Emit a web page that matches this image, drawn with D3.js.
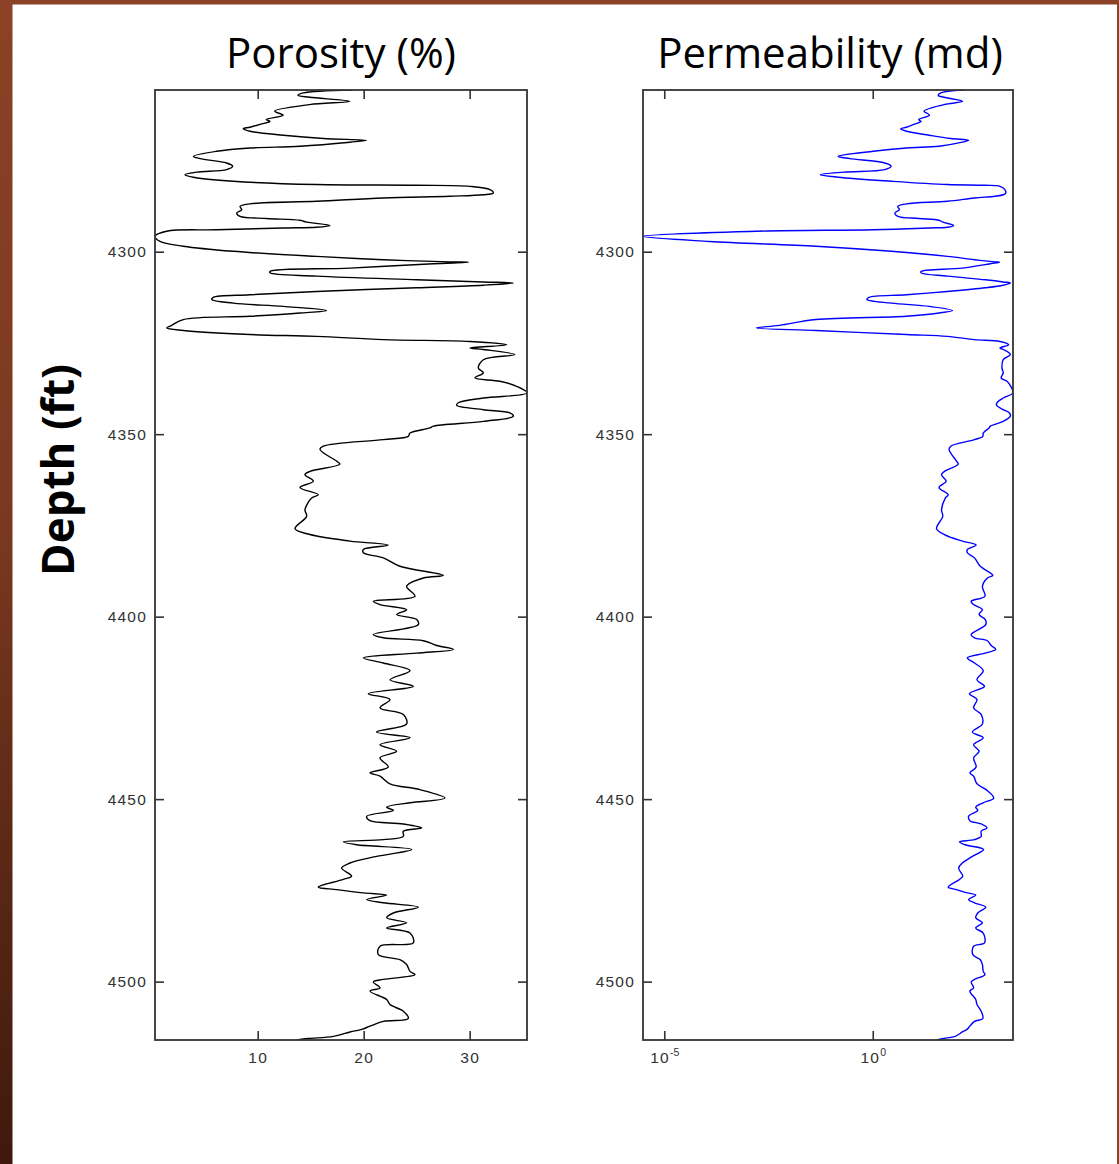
<!DOCTYPE html>
<html><head><meta charset="utf-8">
<script src="https://cdn.jsdelivr.net/npm/d3@7"></script>
<style>body{margin:0;background:#fff;overflow:hidden}</style>
</head><body>
<svg id="c" width="1119" height="1164"></svg>
<script>
// Depth (ft) of each traced point
const depth = [
4255.7,4256.5,4257.2,4257.7,4258.8,4259.7,4261.5,4262.6,4263.8,4264.3,
4265.0,4265.9,4266.3,4267.0,4268.1,4269.0,4269.5,4270.0,4271.1,4271.6,
4272.5,4273.9,4274.5,4275.7,4276.6,4277.5,4278.2,4278.9,4279.6,4280.7,
4281.6,4281.8,4282.1,4283.0,4283.9,4284.4,4284.8,4285.3,4286.2,4286.9,
4287.6,4288.5,4289.4,4290.3,4290.9,4291.4,4291.9,4292.8,4293.3,4293.5,
4294.0,4294.4,4295.8,4297.2,4298.5,4299.9,4301.3,4302.2,4302.8,4302.9,
4303.3,4304.5,4305.4,4305.8,4306.7,4307.7,4308.3,4308.6,4309.2,4309.9,
4310.9,4311.8,4312.5,4313.1,4314.1,4315.0,4316.1,4316.8,4317.7,4318.6,
4320.2,4320.9,4321.6,4322.7,4323.2,4324.1,4324.6,4325.5,4326.4,4326.8,
4328.2,4329.6,4331.9,4333.2,4334.6,4335.5,4336.9,4338.7,4340.1,4341.4,
4342.1,4343.3,4344.2,4345.1,4346.5,4347.8,4348.3,4349.7,4350.6,4351.5,
4353.3,4354.2,4357.4,4358.2,4360.2,4361.1,4362.9,4364.6,4366.6,4367.5,
4370.7,4372.5,4375.9,4377.5,4379.3,4380.4,4381.6,4382.5,4383.9,4386.2,
4388.7,4389.4,4391.7,4394.4,4395.8,4396.7,4398.1,4399.4,4400.8,4402.2,
4404.9,4405.8,4406.6,4407.9,4409.0,4410.0,4411.3,4412.7,4414.8,4417.3,
4419.1,4421.1,4422.7,4425.0,4426.8,4429.4,4431.6,4433.2,4435.1,4436.9,
4438.7,4441.2,4442.8,4443.7,4445.8,4447.4,4449.7,4451.0,4452.2,4453.1,
4454.7,4455.9,4456.8,4457.9,4458.8,4460.2,4461.1,4461.7,4462.5,4463.8,
4465.7,4467.5,4468.9,4471.1,4472.0,4474.1,4474.8,4475.7,4476.3,4477.5,
4478.4,4479.6,4481.2,4482.5,4483.9,4485.3,4486.7,4489.4,4490.3,4492.6,
4494.0,4495.3,4497.2,4498.1,4499.4,4500.1,4501.7,4502.6,4504.9,4506.3,
4508.1,4510.1,4510.9,4512.2,4513.1,4513.8,4515.0,4515.6,4516.0
];
// Porosity (%)
const porosity = [
18.9,14.3,13.8,14.9,18.7,14.9,11.6,12.4,10.8,11.16,
10.37,9.27,8.64,9.27,12.42,16.19,20.28,18.71,13.99,9.27,
6.13,3.93,4.56,7.07,7.64,7.07,4.24,3.14,3.93,7.70,
15.56,25.0,30.03,31.92,32.23,31.29,28.14,21.85,15.56,9.27,
8.33,8.49,8.02,8.33,10.85,13.99,14.62,16.82,15.56,12.42,
6.13,1.41,0.31,0.78,2.98,7.70,15.56,21.85,28.14,29.87,
26.57,18.71,11.16,11.16,15.56,25.0,31.29,34.12,31.29,25.0,
15.56,9.27,5.81,5.66,7.70,12.42,16.51,13.99,9.27,2.98,
1.88,1.41,2.98,9.27,15.56,21.85,30.03,33.49,30.03,31.29,
34.27,31.29,30.82,31.29,30.5,32.86,34.43,35.41,31.29,28.93,
28.77,31.29,33.8,34.12,31.29,26.57,26.25,24.37,24.21,21.85,
16.19,15.88,17.45,17.76,14.93,14.46,15.25,13.99,15.72,15.09,
14.46,14.62,13.52,14.93,18.71,22.32,19.97,19.97,21.85,23.42,
27.51,25.63,24.05,24.84,20.91,21.54,24.05,23.11,25.0,25.15,
20.91,21.85,25.63,26.88,28.46,25.0,19.97,21.85,24.37,22.48,
24.68,20.44,22.48,21.54,23.74,24.05,21.22,24.37,21.54,23.11,
21.54,22.32,20.6,21.54,22.48,25.31,27.67,24.37,22.17,22.8,
20.28,20.6,23.74,25.47,23.74,23.74,21.85,18.08,19.34,24.53,
21.22,18.71,17.92,18.86,18.08,15.72,17.45,19.97,22.17,20.28,
21.85,25.15,22.8,22.17,24.05,22.17,24.37,24.68,21.54,21.38,
23.42,24.05,24.37,24.84,21.85,20.91,21.54,20.6,22.17,22.48,
23.74,24.21,21.85,20.6,19.81,18.71,17.14,14.78,13.68
];
// Permeability, log10(md)
const permLog10 = [
2.17,1.63,1.57,1.71,2.15,1.71,1.23,1.36,1.10,1.16,
1.02,0.81,0.67,0.81,1.36,1.87,2.30,2.15,1.59,0.81,
0.01,-0.83,-0.55,0.29,0.44,0.29,-0.69,-1.26,-0.83,0.45,
1.79,2.70,3.05,3.17,3.19,3.13,2.93,2.44,1.79,0.81,
0.60,0.64,0.53,0.60,1.11,1.59,1.68,1.94,1.79,1.36,
0.01,-2.79,-5.51,-3.92,-1.36,0.45,1.79,2.44,2.93,3.04,
2.82,2.15,1.16,1.16,1.79,2.70,3.13,3.30,3.13,2.70,
1.79,0.81,-0.09,-0.14,0.45,1.36,1.91,1.59,0.81,-1.36,
-2.24,-2.79,-1.36,0.81,1.79,2.44,3.05,3.26,3.05,3.13,
3.30,3.13,3.10,3.13,3.08,3.22,3.31,3.364,3.13,2.98,
2.97,3.13,3.28,3.30,3.13,2.82,2.79,2.65,2.64,2.44,
1.87,1.83,2.01,2.05,1.72,1.65,1.76,1.59,1.81,1.74,
1.65,1.68,1.53,1.72,2.15,2.48,2.27,2.27,2.44,2.58,
2.88,2.75,2.63,2.69,2.36,2.42,2.63,2.55,2.70,2.71,
2.36,2.44,2.75,2.84,2.95,2.70,2.27,2.44,2.65,2.50,
2.68,2.32,2.50,2.42,2.60,2.63,2.39,2.65,2.42,2.55,
2.42,2.48,2.33,2.42,2.50,2.72,2.90,2.65,2.47,2.52,
2.30,2.33,2.60,2.74,2.60,2.60,2.44,2.08,2.21,2.66,
2.39,2.15,2.06,2.16,2.08,1.81,2.01,2.27,2.47,2.30,
2.44,2.71,2.52,2.47,2.63,2.47,2.65,2.68,2.42,2.40,
2.58,2.63,2.65,2.69,2.44,2.36,2.42,2.33,2.47,2.50,
2.60,2.64,2.44,2.33,2.26,2.15,1.98,1.70,1.55
];
const depthTicks = [4300, 4350, 4400, 4450, 4500];
const porosityTicks = [10, 20, 30];
const permTickExponents = [-5, 0];
const titles = ["Porosity (%)", "Permeability (md)"];
const yTitle = "Depth (ft)";

const svg = d3.select("#c");
const W = 1119, H = 1164;

// frame
const defs = svg.append("defs");
const g1 = defs.append("linearGradient").attr("id","wood").attr("x1",0).attr("y1",0).attr("x2",0).attr("y2",1);
g1.append("stop").attr("offset","0").attr("stop-color","#8b4226");
g1.append("stop").attr("offset","0.45").attr("stop-color","#7a3820");
g1.append("stop").attr("offset","1").attr("stop-color","#3e190c");
svg.append("rect").attr("x",0).attr("y",0).attr("width",W).attr("height",H).attr("fill","#fff");
svg.append("rect").attr("x",0).attr("y",0).attr("width",W).attr("height",4.5).attr("fill","#8b4226");
svg.append("rect").attr("x",0).attr("y",0).attr("width",12.5).attr("height",H).attr("fill","url(#wood)");
svg.append("rect").attr("x",1117).attr("y",0).attr("width",2).attr("height",H).attr("fill","#8b4226");

const yTop = 90, yBottom = 1040;
const y = d3.scaleLinear().domain([4255.7, 4516.0]).range([yTop, yBottom]);
const xP = d3.scaleLinear().domain([0.31, 35.41]).range([155, 527]);
const xK = d3.scaleLog().domain([Math.pow(10,-5.51), Math.pow(10,3.364)]).range([643, 1013]);

const tickFont = "'Liberation Sans', Arial, sans-serif";
const axisColor = "#333";

function styleAxis(g){
  g.select(".domain").remove();
  g.selectAll(".tick line").attr("stroke", axisColor).attr("stroke-width", 1.6);
  g.selectAll(".tick text").attr("fill", "#333").style("font-family", tickFont)
   .style("font-size", "15.5px").style("letter-spacing", "1.2px");
}

function panel(x, xTicks, series, color, fmtSup){
  const [x0, x1] = x.range();
  const g = svg.append("g");
  g.append("g").attr("transform", `translate(${x0},0)`)
    .call(d3.axisLeft(y).tickValues(depthTicks).tickSizeInner(-9).tickSizeOuter(0).tickPadding(8).tickFormat(d3.format("d")))
    .call(styleAxis);
  g.append("g").attr("transform", `translate(${x1},0)`)
    .call(d3.axisRight(y).tickValues(depthTicks).tickSizeInner(-9).tickSizeOuter(0).tickFormat(""))
    .call(styleAxis);
  const bAx = d3.axisBottom(x).tickValues(xTicks).tickSizeInner(-9).tickSizeOuter(0).tickPadding(12);
  if (fmtSup) bAx.tickFormat(() => ""); else bAx.tickFormat(d3.format("d"));
  const bg = g.append("g").attr("transform", `translate(0,${yBottom})`).call(bAx).call(styleAxis);
  if (fmtSup){
    bg.selectAll(".tick text").each(function(d){
      const t = d3.select(this).text(null).attr("dy","0.71em");
      t.append("tspan").text("10");
      t.append("tspan").attr("dy","-7").style("font-size","10.5px").style("letter-spacing","0px").text(Math.round(Math.log10(d)));
    });
  }
  g.append("g").attr("transform", `translate(0,${yTop})`)
    .call(d3.axisTop(x).tickValues(xTicks).tickSizeInner(-9).tickSizeOuter(0).tickFormat(""))
    .call(styleAxis);
  const clipId = "clip" + Math.round(x0);
  defs.append("clipPath").attr("id", clipId).append("rect")
    .attr("x", x0).attr("y", yTop).attr("width", x1 - x0).attr("height", yBottom - yTop);
  const line = d3.line().x(d => x(d[0])).y(d => y(d[1])).curve(d3.curveCatmullRom.alpha(0.5));
  g.append("path").datum(series).attr("d", line).attr("fill","none").attr("clip-path", `url(#${clipId})`)
    .attr("stroke", color).attr("stroke-width", 1.4).attr("stroke-linejoin","round");
  g.append("rect").attr("x", x0).attr("y", yTop).attr("width", x1 - x0).attr("height", yBottom - yTop)
    .attr("fill","none").attr("stroke", axisColor).attr("stroke-width", 1.8);
}

panel(xP, porosityTicks, porosity.map((p,i) => [p, depth[i]]), "#000", false);
panel(xK, permTickExponents.map(e => Math.pow(10,e)), permLog10.map((k,i) => [Math.pow(10,k), depth[i]]), "#0000ff", true);

const titleFont = "'Open Sans', 'Noto Sans', sans-serif";
svg.append("text").attr("x", (155+527)/2).attr("y", 68).attr("text-anchor","middle")
  .style("font-family", titleFont).style("font-size","42px").attr("fill","#000").text(titles[0]);
svg.append("text").attr("x", (643+1013)/2 + 2).attr("y", 68).attr("text-anchor","middle")
  .style("font-family", titleFont).style("font-size","42px").attr("fill","#000").text(titles[1]);
svg.append("text").attr("transform","translate(74,470) rotate(-90)").attr("text-anchor","middle")
  .style("font-family", titleFont).style("font-size","44px").style("font-weight","bold").attr("fill","#000").text(yTitle);
</script>
</body></html>
